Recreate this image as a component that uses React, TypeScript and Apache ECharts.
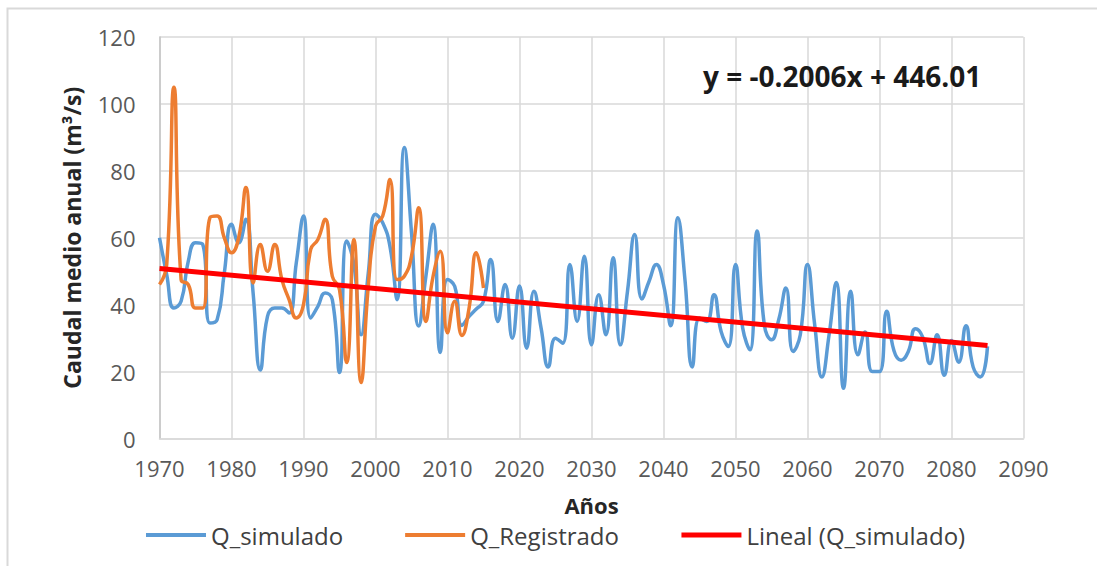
import React, { useEffect, useRef } from "react";
import * as echarts from "echarts";

// ---- Data ----
const simStartYear = 1970;
const simValues = [
  60, 49, 39, 41, 53, 58.5, 58, 34.5, 35.5, 49.5,
  64, 58.5, 65.5, 43.5, 20.5, 36.5, 39, 39, 37.5, 52.5,
  66.5, 36, 39.5, 43.5, 41.5, 19.7, 59, 52, 31, 49.5,
  67, 64.5, 57.5, 41.5, 87, 61.5, 33.6, 48.5, 64, 25.7,
  47.5, 45.5, 33.8, 36.5, 38.7, 41, 53.5, 35, 46, 30,
  45.6, 27, 44, 33, 21.4, 30, 28.5, 52, 35, 54.5,
  28, 43, 31, 54, 28, 44, 61, 41.7, 47, 52,
  46, 33.7, 66, 47, 21.4, 36, 35, 43, 32, 27.5,
  52, 33, 26.5, 62, 34, 29.5, 35.5, 45, 26, 31,
  52, 34, 18.4, 31, 46.6, 15, 44, 25, 31.8, 20,
  20, 38, 26.3, 23.4, 26, 32.8, 30.3, 22.4, 31, 18.9,
  29.3, 22.8, 33.7, 21.4, 18.4, 27.5,
];

const regStartYear = 1970;
const regValues = [
  46, 52, 105, 47.5, 46, 39, 39, 66, 66.5, 60,
  55.5, 60, 75, 46.5, 58, 50, 58, 47.5, 41.5, 36,
  40, 56.5, 59.5, 65.5, 48.5, 44.5, 22.7, 59.5, 16.7, 45.5,
  63.5, 66.5, 77.4, 47.5, 48.5, 54.5, 69, 35, 48.5, 56,
  31.6, 41, 30.8, 39, 55.5, 45,
];

// Trend line end points (y = -0.2006x + 446.01)
const trendYears = [1970, 2085];
const trendValues = [50.8, 27.8];

const xTicks = { min: 1970, max: 2090, interval: 10 };
const yTicks = { min: 0, max: 120, interval: 20 };

const seriesNames = ["Q_simulado", "Q_Registrado", "Lineal (Q_simulado)"];
const seriesColors = ["#5B9BD5", "#ED7D31", "#FF0000"];
const equationText = "y = -0.2006x + 446.01";
const xTitle = "Años";
const yTitle = "Caudal medio anual (m³/s)";

const FONT = "'Open Sans', 'DejaVu Sans', sans-serif";

export default function App() {
  const ref = useRef<HTMLDivElement>(null);

  useEffect(() => {
    if (!ref.current) return;
    const chart = echarts.init(ref.current, null, { renderer: "svg" });

    const simData = simValues.map((v, i) => [simStartYear + i, v]);
    const regData = regValues.map((v, i) => [regStartYear + i, v]);
    const trendData = trendYears.map((y, i) => [y, trendValues[i]]);

    const option: any = {
      animation: false,
      backgroundColor: "#ffffff",
      grid: { left: 159.5, right: 73.5, top: 37, bottom: 127.5, containLabel: false },
      xAxis: {
        type: "value",
        min: xTicks.min,
        max: xTicks.max,
        interval: xTicks.interval,
        name: xTitle,
        nameLocation: "middle",
        nameGap: 56.5,
        nameTextStyle: {
          fontFamily: FONT,
          fontSize: 22,
          lineHeight: 20,
          fontWeight: "bold",
          color: "#262626",
        },
        axisLine: { show: true, lineStyle: { color: "#d9d9d9", width: 1.5 } },
        axisTick: { show: false },
        axisLabel: {
          color: "#595959",
          fontFamily: FONT,
          fontSize: 22,
          margin: 18,
          formatter: (v: number) => String(v),
        },
        splitLine: { show: true, lineStyle: { color: "#d9d9d9", width: 1.5 } },
      },
      yAxis: {
        type: "value",
        min: yTicks.min,
        max: yTicks.max,
        interval: yTicks.interval,
        name: yTitle,
        nameLocation: "middle",
        nameGap: 76,
        nameTextStyle: { fontFamily: FONT, fontSize: 23, fontWeight: "bold", color: "#262626" },
        axisLine: { show: true, lineStyle: { color: "#c4c4c4", width: 1.5 } },
        axisTick: { show: false },
        axisLabel: {
          color: "#595959",
          fontFamily: FONT,
          fontSize: 22,
          margin: 24,
          formatter: (v: number) => String(v),
        },
        splitLine: { show: true, lineStyle: { color: "#d9d9d9", width: 1.5 } },
      },
      legend: {
        show: true,
        left: 144,
        top: 523,
        padding: 0,
        itemWidth: 60,
        itemHeight: 14,
        itemGap: 60,
        itemStyle: { opacity: 0 },
        textStyle: { fontFamily: FONT, fontSize: 24, lineHeight: 20, color: "#404040" },
        data: [
          { name: seriesNames[0], lineStyle: { width: 4, color: seriesColors[0] } },
          { name: seriesNames[1], lineStyle: { width: 4, color: seriesColors[1] } },
          { name: seriesNames[2], lineStyle: { width: 5, color: seriesColors[2] } },
        ],
      },
      graphic: [
        {
          type: "rect",
          shape: { x: 7.5, y: 8.5, width: 1300, height: 800 },
          style: { fill: "none", stroke: "#d9d9d9", lineWidth: 2 },
          silent: true,
        },
        {
          type: "text",
          x: 703,
          y: 76,
          style: {
            text: equationText,
            fontFamily: FONT,
            fontSize: 28,
            fontWeight: "bold",
            fill: "#1a1a1a",
            align: "left",
            verticalAlign: "middle",
          },
          z: 10,
        },
      ],
      series: [
        {
          name: seriesNames[0],
          type: "line",
          data: simData,
          smooth: 0.5,
          symbol: "none",
          showSymbol: false,
          lineStyle: { color: seriesColors[0], width: 3.5 },
          itemStyle: { color: seriesColors[0] },
          z: 2,
        },
        {
          name: seriesNames[1],
          type: "line",
          data: regData,
          smooth: 0.5,
          symbol: "none",
          showSymbol: false,
          lineStyle: { color: seriesColors[1], width: 3.5 },
          itemStyle: { color: seriesColors[1] },
          z: 3,
        },
        {
          name: seriesNames[2],
          type: "line",
          data: trendData,
          symbol: "none",
          showSymbol: false,
          lineStyle: { color: seriesColors[2], width: 5 },
          itemStyle: { color: seriesColors[2] },
          z: 4,
        },
      ],
    };

    chart.setOption(option);
    return () => chart.dispose();
  }, []);

  return (
    <div
      ref={ref}
      style={{ position: "fixed", left: 0, top: 0, width: 1097, height: 566, background: "#ffffff" }}
    />
  );
}
